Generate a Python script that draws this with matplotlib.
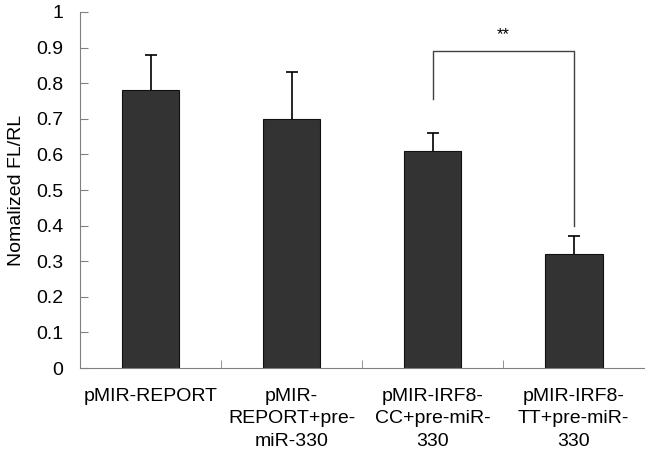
import matplotlib
matplotlib.use('Agg')
import matplotlib.pyplot as plt
import numpy as np

plt.rcParams['font.family'] = ['Liberation Sans', 'DejaVu Sans']

# ── Data ──────────────────────────────────────────────
labels = ["pMIR-REPORT", "pMIR-\nREPORT+pre-\nmiR-330",
          "pMIR-IRF8-\nCC+pre-miR-\n330", "pMIR-IRF8-\nTT+pre-miR-\n330"]
means = [0.78, 0.70, 0.61, 0.32]
errs = [0.10, 0.13, 0.05, 0.05]

# significance bracket between groups 3 and 4
sig_pair = (2, 3)
sig_top = 0.89
sig_legs = (0.755, 0.40)
sig_text = "**"

fig = plt.figure(figsize=(6.48, 4.59), dpi=100)
ax = fig.add_axes([0.1235, 0.198, 0.8705, 0.776])

x = np.arange(len(means))
tops = np.array(means) + np.array(errs)
ax.bar(x, means, width=0.41, color='#333333', edgecolor='#111111', linewidth=0.8, zorder=2)
# upper-only error bars
ax.vlines(x, means, tops, color='black', lw=1.2, zorder=3)
ax.plot(x, tops, linestyle='none', marker='_', markersize=9,
        markeredgewidth=1.2, color='black', zorder=3)

# bracket
x1, x2 = sig_pair
ax.plot([x1, x1, x2, x2], [sig_legs[0], sig_top, sig_top, sig_legs[1]],
        color='#404040', lw=1.0, zorder=3)
ax.text((x1 + x2) / 2, sig_top + 0.025, sig_text, ha='center', va='bottom', fontsize=12)

ax.set_xlim(-0.5, len(means) - 0.5)
ax.set_ylim(0, 1)
ax.set_yticks(np.arange(0, 1.01, 0.1))
ax.set_yticklabels(['0'] + [f'{v:.1f}' for v in np.arange(0.1, 0.95, 0.1)] + ['1'])
ax.set_xticks(x)
ax.set_xticklabels(labels, fontsize=14, linespacing=1.45)
ax.tick_params(axis='x', length=0, pad=14)
ax.set_xticks(np.arange(0.5, len(means) - 1, 1.0), minor=True)
ax.tick_params(axis='x', which='minor', direction='in', length=6, color='#808080')
ax.tick_params(axis='y', direction='in', length=6, color='#808080', labelsize=14, pad=12)
ax.set_ylabel('Nomalized FL/RL', fontsize=14, labelpad=8)

for s in ['top', 'right']:
    ax.spines[s].set_visible(False)
for s in ['left', 'bottom']:
    ax.spines[s].set_color('#808080')

fig.savefig('out.png', dpi=100)
